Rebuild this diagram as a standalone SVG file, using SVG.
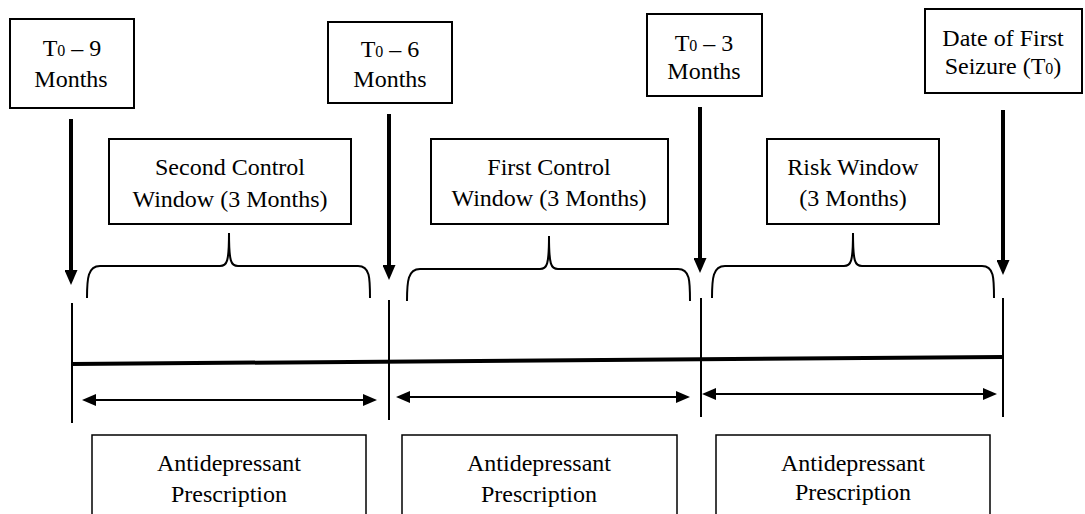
<svg xmlns="http://www.w3.org/2000/svg" width="1085" height="514" viewBox="0 0 1085 514">
<style>
.box{fill:#fff;stroke:#000;stroke-width:2}
.t{font-family:"Liberation Serif","Times New Roman",serif;font-size:24px;fill:#000;text-anchor:middle}
.sub{font-size:16px}
.down{stroke:#000;stroke-width:4;fill:none}
.tick{stroke:#000;stroke-width:2;fill:none}
.brace{stroke:#000;stroke-width:2;fill:none}
.dbl{stroke:#000;stroke-width:2;fill:none}
</style>
<defs>
<marker id="downHead" markerUnits="userSpaceOnUse" markerWidth="15" markerHeight="13" refX="3" refY="6.5" orient="auto">
<path d="M0,0 L15,6.5 L0,13 z" fill="#000"/>
</marker>
<marker id="dblHead" markerUnits="userSpaceOnUse" markerWidth="14" markerHeight="12" refX="5" refY="6" orient="auto-start-reverse">
<path d="M0,0 L14,6 L0,12 z" fill="#000"/>
</marker>
</defs>
<rect width="1085" height="514" fill="#fff"/>

<g id="t0-9">
<rect class="box" x="10" y="19" width="124" height="89"/>
<text class="t" x="72" y="56">T<tspan class="sub">0</tspan> – 9</text>
<text class="t" x="71" y="87">Months</text>
</g>
<g id="t0-6">
<rect class="box" x="328" y="22" width="124" height="81"/>
<text class="t" x="390" y="57">T<tspan class="sub">0</tspan> – 6</text>
<text class="t" x="390" y="87">Months</text>
</g>
<g id="t0-3">
<rect class="box" x="647" y="14" width="115" height="82"/>
<text class="t" x="704" y="51">T<tspan class="sub">0</tspan> – 3</text>
<text class="t" x="704" y="79">Months</text>
</g>
<g id="t0">
<rect class="box" x="925" y="9" width="157" height="84"/>
<text class="t" x="1003" y="46">Date of First</text>
<text class="t" x="1003" y="74">Seizure (T<tspan class="sub">0</tspan>)</text>
</g>

<g id="second-control">
<rect class="box" x="109" y="139" width="242" height="85"/>
<text class="t" x="230" y="175">Second Control</text>
<text class="t" x="230" y="207">Window (3 Months)</text>
</g>
<g id="first-control">
<rect class="box" x="431" y="139" width="237" height="85"/>
<text class="t" x="549" y="175">First Control</text>
<text class="t" x="549" y="206">Window (3 Months)</text>
</g>
<g id="risk-window">
<rect class="box" x="767" y="139" width="172" height="85"/>
<text class="t" x="853" y="175">Risk Window</text>
<text class="t" x="853" y="206">(3 Months)</text>
</g>

<g id="rx1">
<rect class="box" x="92" y="435" width="274" height="90" style="stroke-width:1.5"/>
<text class="t" x="229" y="471">Antidepressant</text>
<text class="t" x="229" y="502">Prescription</text>
</g>
<g id="rx2">
<rect class="box" x="402" y="435" width="275" height="90" style="stroke-width:1.5"/>
<text class="t" x="539" y="471">Antidepressant</text>
<text class="t" x="539" y="502">Prescription</text>
</g>
<g id="rx3">
<rect class="box" x="716" y="435" width="274" height="90" style="stroke-width:1.5"/>
<text class="t" x="853" y="471">Antidepressant</text>
<text class="t" x="853" y="500">Prescription</text>
</g>

<g id="connectors">
<line class="down" x1="71" y1="119" x2="71" y2="273" marker-end="url(#downHead)"/>
<line class="down" x1="389" y1="114" x2="389" y2="268" marker-end="url(#downHead)"/>
<line class="down" x1="700" y1="107" x2="700" y2="261" marker-end="url(#downHead)"/>
<line class="down" x1="1003" y1="110" x2="1003" y2="263" marker-end="url(#downHead)"/>

<path class="brace" d="M87,298 C87,278 88,266 100,266 L220,266 C227,266 229,262 229,233 C229,262 231,266 238,266 L358,266 C370,266 370,278 370,298"/>
<path class="brace" d="M407,301 C407,281 408,269 420,269 L540,269 C547,269 549,265 549,236 C549,265 551,269 558,269 L678,269 C690,269 690,281 690,301"/>
<path class="brace" d="M712,298 C712,278 713,266 725,266 L844,266 C851,266 853,262 853,233 C853,262 855,266 862,266 L982,266 C994,266 994,278 994,298"/>

<line class="tick" x1="72" y1="303" x2="72" y2="423"/>
<line class="tick" x1="389" y1="300" x2="389" y2="420"/>
<line class="tick" x1="701" y1="298" x2="701" y2="417"/>
<line class="tick" x1="1003" y1="298" x2="1003" y2="417"/>

<line x1="72" y1="364" x2="1003" y2="357" stroke="#000" stroke-width="4"/>

<line class="dbl" x1="91" y1="400" x2="368" y2="400" marker-start="url(#dblHead)" marker-end="url(#dblHead)"/>
<line class="dbl" x1="405" y1="397" x2="681" y2="397" marker-start="url(#dblHead)" marker-end="url(#dblHead)"/>
<line class="dbl" x1="711" y1="394" x2="988" y2="394" marker-start="url(#dblHead)" marker-end="url(#dblHead)"/>
</g>
</svg>
